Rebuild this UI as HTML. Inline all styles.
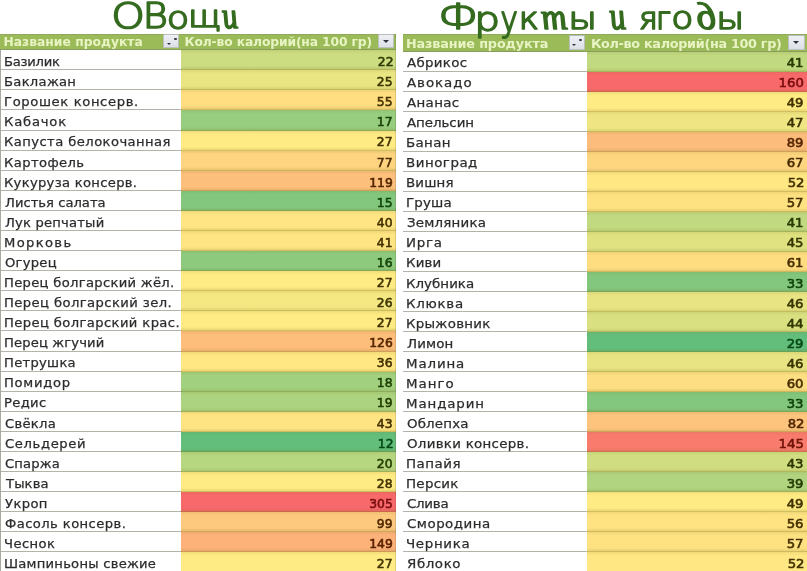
<!DOCTYPE html><html lang="ru"><head><meta charset="utf-8"><title>Table</title><style>
html,body{margin:0;padding:0}
html{overflow:hidden}
body{width:807px;height:571px;overflow:hidden;background:#fff;position:relative}
#v{position:absolute;left:0;top:0;width:807px;height:571px;overflow:hidden;background:#fff}
#w{position:absolute;left:-20px;top:-20px;width:847px;height:611px;background:#fff;overflow:hidden;filter:blur(0.7px);font-family:"DejaVu Sans","Liberation Sans",sans-serif}
#c{position:absolute;left:20px;top:20px;width:807px;height:571px}
#c div,#c span,#c b,#c i{position:absolute;display:block}
.hdr{background:#9bbb59;box-shadow:inset 0 -1px 0 rgba(120,130,100,.5),inset 0 1px 0 rgba(120,130,100,.3)}
.ht{color:#e8f4c4;font-weight:bold;font-size:12.3px;line-height:1;white-space:pre;-webkit-text-stroke:0px #e8f4c4}
.nm{background:#fff;box-shadow:inset 0 -1px 0 #b2b4aa}
.vl{background-image:linear-gradient(rgba(110,100,10,.10),rgba(110,100,10,0) 3.5px,rgba(110,100,10,0) calc(100% - 4px),rgba(110,100,10,.20));box-shadow:inset 0 -1px 0 rgba(100,95,20,.16)}
.tx{font-size:12.5px;line-height:1;white-space:pre;font-weight:normal;color:#2c2c2c;-webkit-text-stroke:0.25px #2c2c2c}
#c .d{font-size:13.0px;-webkit-text-stroke-width:0.6px}
#c .hL{transform:translateY(.4px)}
#c .hR{transform:translateY(-.1px)}
#c .dL{transform:scaleX(0.95);transform-origin:100% 0}
#c .dR{transform:scaleX(1.02);transform-origin:100% 0}
#c .L{transform:translateY(0.2px) scaleX(1.05);transform-origin:0 0}
#c .R{transform:translateY(0.0px) scaleX(1.07);transform-origin:0 0}
.btn{background:linear-gradient(#eef0f4,#dde0e7);border:1px solid rgba(150,160,150,.55);box-sizing:border-box;border-radius:1px}
.btn i{left:50%;top:50%;margin:-1px 0 0 -3.5px;border-left:3.5px solid transparent;border-right:3.5px solid transparent;border-top:3px solid #2e2e3c;width:0;height:0}
.btn.s i{left:2.8px;top:8.2px;margin:0;border-left-width:2.8px;border-right-width:2.8px;border-top-width:2.8px}
.btn.s u{position:absolute;display:block;left:9.6px;top:2.8px;width:2.8px;height:1.8px;background:#3a3a4a;border-radius:1px}
.vln{background:#a8a8a0;width:1px}
#ttl{position:absolute;left:0;top:0;overflow:visible;z-index:5}
#ttl text{font-family:"DejaVu Sans","Liberation Sans",sans-serif;font-weight:200;font-size:32px;fill:#346b1f;stroke:#346b1f;stroke-width:1.8px;stroke-linejoin:round;stroke-linecap:round;vector-effect:non-scaling-stroke;white-space:pre}
#ttl .u{text-transform:uppercase}
#ttl .c{font-family:"Liberation Serif","DejaVu Serif",serif;font-style:italic;font-weight:400;stroke-width:1.53px}</style></head><body><div id="v"><div id="w"><div id="c">
<svg id="ttl" width="807" height="60" viewBox="0 0 807 60" role="img" aria-label="Овощи. Фрукты и ягоды"><g><text transform="translate(111.25,28.12) scale(1.3374,1.1219)">О</text><text class="u" transform="translate(142.66,28.41) scale(1.2002,1.1037)">в</text><text transform="translate(166.66,28.77) scale(1.1486,0.9903)">о</text><text transform="translate(188.00,27.45) scale(1.1084,0.9382)">щ</text><text class="c" transform="translate(224.59,27.99) scale(0.9415,1.1486) skewX(15.5)">и</text></g>
<g><text transform="translate(437.85,28.57) scale(1.4832,1.1219)">Ф</text><text transform="translate(474.29,30.52) scale(1.2692,1.0597)">р</text><text transform="translate(500.44,30.59) scale(0.9103,1.0514)">у</text><text transform="translate(518.75,28.93) scale(1.0638,0.9573)">к</text><text class="c" transform="translate(543.77,28.83) scale(1.0955,1.1462) skewX(15.5)">т</text><text transform="translate(568.31,28.60) scale(1.1767,0.9363)">ы</text><text x="-50" y="-50"> </text><text class="c" transform="translate(611.96,28.56) scale(0.9674,1.2001) skewX(15.5)">и</text><text x="-50" y="-50"> </text><text transform="translate(639.00,28.90) scale(1.0000,0.9363)">я</text><text transform="translate(655.85,28.93) scale(0.9693,0.9573)">г</text><text transform="translate(671.14,29.28) scale(1.1329,0.9799)">о</text><text class="c" transform="translate(699.34,29.25) scale(1.2042,1.1992) skewX(15.5)">д</text><text transform="translate(716.36,28.60) scale(1.1453,0.9363)">ы</text></g>
</svg>
<div class="hdr" style="left:-20px;top:34px;width:416px;height:16px"></div>
<span class="ht hL" style="font-size:12.3px;left:3.40px;top:35.89px;letter-spacing:0.024px">Название продукта</span>
<span class="ht hL" style="font-size:12.3px;left:184.50px;top:35.89px;letter-spacing:-0.134px">Кол-во калорий(на 100 гр)</span>
<div class="btn s" style="left:163.4px;top:34px;width:15.6px;height:14px"><i></i><u></u></div>
<div class="btn" style="left:378.2px;top:34.2px;width:16.3px;height:13.6px"><i></i></div>
<div class="nm" style="left:-20px;top:50px;width:201px;height:20px"></div><div class="vl" style="left:181px;top:50px;width:215px;height:20px;background-color:#cbdc81"></div><b class="tx L" style="left:3.85px;top:56.42px;letter-spacing:-0.242px">Базилик</b> <b class="tx d dL" style="right:413.09px;top:55.40px;color:#2d3a00;-webkit-text-stroke-color:#2d3a00">22</b>
<div class="nm" style="left:-20px;top:70px;width:201px;height:20px"></div><div class="vl" style="left:181px;top:70px;width:215px;height:20px;background-color:#eae583"></div><b class="tx L" style="left:3.85px;top:76.42px;letter-spacing:0.283px">Баклажан</b> <b class="tx d dL" style="right:414.04px;top:75.40px;color:#393500;-webkit-text-stroke-color:#393500">25</b>
<div class="nm" style="left:-20px;top:90px;width:201px;height:20px"></div><div class="vl" style="left:181px;top:90px;width:215px;height:20px;background-color:#fede81"></div><b class="tx L" style="left:3.85px;top:96.42px;letter-spacing:0.605px">Горошек консерв.</b> <b class="tx d dL" style="right:414.04px;top:95.40px;color:#472f00;-webkit-text-stroke-color:#472f00">55</b>
<div class="nm" style="left:-20px;top:110px;width:201px;height:21px"></div><div class="vl" style="left:181px;top:110px;width:215px;height:21px;background-color:#97cd7e"></div><b class="tx L" style="left:3.85px;top:116.42px;letter-spacing:0.773px">Кабачок</b> <b class="tx d dL" style="right:414.04px;top:115.40px;color:#184106;-webkit-text-stroke-color:#184106">17</b>
<div class="nm" style="left:-20px;top:131px;width:201px;height:20px"></div><div class="vl" style="left:181px;top:131px;width:215px;height:20px;background-color:#ffeb84"></div><b class="tx L" style="left:3.85px;top:136.43px;letter-spacing:0.414px">Капуста белокочанная</b> <b class="tx d dL" style="right:414.04px;top:135.40px;color:#413200;-webkit-text-stroke-color:#413200">27</b>
<div class="nm" style="left:-20px;top:151px;width:201px;height:20px"></div><div class="vl" style="left:181px;top:151px;width:215px;height:20px;background-color:#fed480"></div><b class="tx L" style="left:3.85px;top:157.43px;letter-spacing:0.386px">Картофель</b> <b class="tx d dL" style="right:414.04px;top:156.40px;color:#4b2c00;-webkit-text-stroke-color:#4b2c00">77</b>
<div class="nm" style="left:-20px;top:171px;width:201px;height:20px"></div><div class="vl" style="left:181px;top:171px;width:215px;height:20px;background-color:#fdc07c"></div><b class="tx L" style="left:3.85px;top:177.43px;letter-spacing:0.288px">Кукуруза консерв.</b> <b class="tx d dL" style="right:414.04px;top:176.40px;color:#542600;-webkit-text-stroke-color:#542600">119</b>
<div class="nm" style="left:-20px;top:191px;width:201px;height:20px"></div><div class="vl" style="left:181px;top:191px;width:215px;height:20px;background-color:#82c77d"></div><b class="tx L" style="left:4.90px;top:197.43px;letter-spacing:0.012px">Листья салата</b> <b class="tx d dL" style="right:414.04px;top:196.40px;color:#10440c;-webkit-text-stroke-color:#10440c">15</b>
<div class="nm" style="left:-20px;top:211px;width:201px;height:20px"></div><div class="vl" style="left:181px;top:211px;width:215px;height:20px;background-color:#ffe583"></div><b class="tx L" style="left:4.90px;top:217.43px;letter-spacing:0.184px">Лук репчатый</b> <b class="tx d dL" style="right:414.04px;top:216.40px;color:#443100;-webkit-text-stroke-color:#443100">40</b>
<div class="nm" style="left:-20px;top:231px;width:201px;height:20px"></div><div class="vl" style="left:181px;top:231px;width:215px;height:20px;background-color:#ffe483"></div><b class="tx L" style="left:3.85px;top:237.43px;letter-spacing:1.273px">Морковь</b> <b class="tx d dL" style="right:414.04px;top:236.40px;color:#443000;-webkit-text-stroke-color:#443000">41</b>
<div class="nm" style="left:-20px;top:251px;width:201px;height:20px"></div><div class="vl" style="left:181px;top:251px;width:215px;height:20px;background-color:#8dca7d"></div><b class="tx L" style="left:4.90px;top:257.43px;letter-spacing:0.248px">Огурец</b> <b class="tx d dL" style="right:414.04px;top:256.40px;color:#154209;-webkit-text-stroke-color:#154209">16</b>
<div class="nm" style="left:-20px;top:271px;width:201px;height:20px"></div><div class="vl" style="left:181px;top:271px;width:215px;height:20px;background-color:#ffeb84"></div><b class="tx L" style="left:3.85px;top:277.43px;letter-spacing:0.290px">Перец болгарский жёл.</b> <b class="tx d dL" style="right:414.04px;top:276.40px;color:#413200;-webkit-text-stroke-color:#413200">27</b>
<div class="nm" style="left:-20px;top:291px;width:201px;height:20px"></div><div class="vl" style="left:181px;top:291px;width:215px;height:20px;background-color:#f5e883"></div><b class="tx L" style="left:3.85px;top:297.43px;letter-spacing:0.402px">Перец болгарский зел.</b> <b class="tx d dL" style="right:414.04px;top:296.40px;color:#3d3400;-webkit-text-stroke-color:#3d3400">26</b>
<div class="nm" style="left:-20px;top:311px;width:201px;height:20px"></div><div class="vl" style="left:181px;top:311px;width:215px;height:20px;background-color:#ffeb84"></div><b class="tx L" style="left:3.85px;top:317.43px;letter-spacing:0.375px">Перец болгарский крас.</b> <b class="tx d dL" style="right:414.04px;top:316.40px;color:#413200;-webkit-text-stroke-color:#413200">27</b>
<div class="nm" style="left:-20px;top:331px;width:201px;height:21px"></div><div class="vl" style="left:181px;top:331px;width:215px;height:21px;background-color:#fdbd7b"></div><b class="tx L" style="left:3.85px;top:337.43px;letter-spacing:0.127px">Перец жгучий</b> <b class="tx d dL" style="right:414.04px;top:336.40px;color:#552500;-webkit-text-stroke-color:#552500">126</b>
<div class="nm" style="left:-20px;top:352px;width:201px;height:20px"></div><div class="vl" style="left:181px;top:352px;width:215px;height:20px;background-color:#ffe783"></div><b class="tx L" style="left:3.85px;top:357.43px;letter-spacing:0.269px">Петрушка</b> <b class="tx d dL" style="right:414.04px;top:356.40px;color:#433100;-webkit-text-stroke-color:#433100">36</b>
<div class="nm" style="left:-20px;top:372px;width:201px;height:20px"></div><div class="vl" style="left:181px;top:372px;width:215px;height:20px;background-color:#a1d07f"></div><b class="tx L" style="left:3.85px;top:377.43px;letter-spacing:0.701px">Помидор</b> <b class="tx d dL" style="right:414.04px;top:376.40px;color:#1c3f03;-webkit-text-stroke-color:#1c3f03">18</b>
<div class="nm" style="left:-20px;top:392px;width:201px;height:20px"></div><div class="vl" style="left:181px;top:392px;width:215px;height:20px;background-color:#acd37f"></div><b class="tx L" style="left:3.85px;top:397.43px;letter-spacing:0.311px">Редис</b> <b class="tx d dL" style="right:414.04px;top:396.40px;color:#213e00;-webkit-text-stroke-color:#213e00">19</b>
<div class="nm" style="left:-20px;top:412px;width:201px;height:20px"></div><div class="vl" style="left:181px;top:412px;width:215px;height:20px;background-color:#ffe483"></div><b class="tx L" style="left:4.90px;top:418.43px;letter-spacing:0.278px">Свёкла</b> <b class="tx d dL" style="right:414.04px;top:417.40px;color:#443000;-webkit-text-stroke-color:#443000">43</b>
<div class="nm" style="left:-20px;top:432px;width:201px;height:20px"></div><div class="vl" style="left:181px;top:432px;width:215px;height:20px;background-color:#63be7b"></div><b class="tx L" style="left:4.90px;top:438.43px;letter-spacing:0.611px">Сельдерей</b> <b class="tx d dL" style="right:413.09px;top:437.40px;color:#044816;-webkit-text-stroke-color:#044816">12</b>
<div class="nm" style="left:-20px;top:452px;width:201px;height:20px"></div><div class="vl" style="left:181px;top:452px;width:215px;height:20px;background-color:#b6d680"></div><b class="tx L" style="left:4.90px;top:458.43px;letter-spacing:0.154px">Спаржа</b> <b class="tx d dL" style="right:414.04px;top:457.40px;color:#253d00;-webkit-text-stroke-color:#253d00">20</b>
<div class="nm" style="left:-20px;top:472px;width:201px;height:20px"></div><div class="vl" style="left:181px;top:472px;width:215px;height:20px;background-color:#ffeb84"></div><b class="tx L" style="left:5.95px;top:478.43px;letter-spacing:0.109px">Тыква</b> <b class="tx d dL" style="right:414.04px;top:477.40px;color:#413200;-webkit-text-stroke-color:#413200">28</b>
<div class="nm" style="left:-20px;top:492px;width:201px;height:20px"></div><div class="vl" style="left:181px;top:492px;width:215px;height:20px;background-color:#f8696b"></div><b class="tx L" style="left:4.90px;top:498.43px;letter-spacing:0.360px">Укроп</b> <b class="tx d dL" style="right:414.04px;top:497.40px;color:#790e0f;-webkit-text-stroke-color:#790e0f">305</b>
<div class="nm" style="left:-20px;top:512px;width:201px;height:20px"></div><div class="vl" style="left:181px;top:512px;width:215px;height:20px;background-color:#fdc97e"></div><b class="tx L" style="left:4.90px;top:518.42px;letter-spacing:0.399px">Фасоль консерв.</b> <b class="tx d dL" style="right:414.04px;top:517.40px;color:#502900;-webkit-text-stroke-color:#502900">99</b>
<div class="nm" style="left:-20px;top:532px;width:201px;height:20px"></div><div class="vl" style="left:181px;top:532px;width:215px;height:20px;background-color:#fcb279"></div><b class="tx L" style="left:3.85px;top:538.42px;letter-spacing:0.409px">Чеснок</b> <b class="tx d dL" style="right:414.04px;top:537.40px;color:#5a2200;-webkit-text-stroke-color:#5a2200">149</b>
<div class="nm" style="left:-20px;top:552px;width:201px;height:39px"></div><div class="vl" style="left:181px;top:552px;width:215px;height:39px;background-color:#ffeb84"></div><b class="tx L" style="left:3.85px;top:558.42px;letter-spacing:0.233px">Шампиньоны свежие</b> <b class="tx d dL" style="right:414.04px;top:557.40px;color:#413200;-webkit-text-stroke-color:#413200">27</b>
<div class="hdr" style="left:403px;top:34px;width:427px;height:17.5px"></div>
<span class="ht hR" style="font-size:12.8px;left:405.90px;top:37.97px;letter-spacing:-0.133px">Название продукта</span>
<span class="ht hR" style="font-size:12.8px;left:590.90px;top:37.97px;letter-spacing:-0.311px">Кол-во калорий(на 100 гр)</span>
<div class="btn s" style="left:568.5px;top:35.3px;width:16.5px;height:14.4px"><i></i><u></u></div>
<div class="btn" style="left:788.2px;top:35.3px;width:16.8px;height:14.4px"><i></i></div>
<div class="nm" style="left:403px;top:52px;width:184px;height:20px"></div><div class="vl" style="left:587px;top:52px;width:243px;height:20px;background-color:#c1d980"></div><b class="tx R" style="left:406.70px;top:57.42px;letter-spacing:0.291px">Абрикос</b> <b class="tx d dR" style="right:3.52px;top:56.40px;color:#293b00;-webkit-text-stroke-color:#293b00">41</b>
<div class="nm" style="left:403px;top:72px;width:184px;height:20px"></div><div class="vl" style="left:587px;top:72px;width:243px;height:20px;background-color:#f8696b"></div><b class="tx R" style="left:406.70px;top:77.42px;letter-spacing:0.884px">Авокадо</b> <b class="tx d dR" style="right:3.52px;top:76.40px;color:#790e0f;-webkit-text-stroke-color:#790e0f">160</b>
<div class="nm" style="left:403px;top:92px;width:184px;height:20px"></div><div class="vl" style="left:587px;top:92px;width:243px;height:20px;background-color:#ffeb84"></div><b class="tx R" style="left:406.70px;top:97.42px;letter-spacing:0.332px">Ананас</b> <b class="tx d dR" style="right:3.52px;top:96.40px;color:#413200;-webkit-text-stroke-color:#413200">49</b>
<div class="nm" style="left:403px;top:112px;width:184px;height:20px"></div><div class="vl" style="left:587px;top:112px;width:243px;height:20px;background-color:#efe683"></div><b class="tx R" style="left:406.70px;top:117.42px;letter-spacing:-0.035px">Апельсин</b> <b class="tx d dR" style="right:3.52px;top:116.40px;color:#3b3400;-webkit-text-stroke-color:#3b3400">47</b>
<div class="nm" style="left:403px;top:132px;width:184px;height:20px"></div><div class="vl" style="left:587px;top:132px;width:243px;height:20px;background-color:#fcbc7b"></div><b class="tx R" style="left:405.63px;top:137.43px;letter-spacing:0.350px">Банан</b> <b class="tx d dR" style="right:3.52px;top:136.40px;color:#552500;-webkit-text-stroke-color:#552500">89</b>
<div class="nm" style="left:403px;top:152px;width:184px;height:20px"></div><div class="vl" style="left:587px;top:152px;width:243px;height:20px;background-color:#fed680"></div><b class="tx R" style="left:405.63px;top:157.43px;letter-spacing:0.481px">Виноград</b> <b class="tx d dR" style="right:3.52px;top:156.40px;color:#4a2c00;-webkit-text-stroke-color:#4a2c00">67</b>
<div class="nm" style="left:403px;top:172px;width:184px;height:20px"></div><div class="vl" style="left:587px;top:172px;width:243px;height:20px;background-color:#ffe783"></div><b class="tx R" style="left:405.63px;top:177.43px;letter-spacing:0.123px">Вишня</b> <b class="tx d dR" style="right:2.50px;top:176.40px;color:#433100;-webkit-text-stroke-color:#433100">52</b>
<div class="nm" style="left:403px;top:192px;width:184px;height:20px"></div><div class="vl" style="left:587px;top:192px;width:243px;height:20px;background-color:#fee282"></div><b class="tx R" style="left:405.63px;top:197.43px;letter-spacing:0.159px">Груша</b> <b class="tx d dR" style="right:3.52px;top:196.40px;color:#453000;-webkit-text-stroke-color:#453000">57</b>
<div class="nm" style="left:403px;top:212px;width:184px;height:20px"></div><div class="vl" style="left:587px;top:212px;width:243px;height:20px;background-color:#c1d980"></div><b class="tx R" style="left:406.70px;top:217.43px;letter-spacing:0.211px">Земляника</b> <b class="tx d dR" style="right:3.52px;top:216.40px;color:#293b00;-webkit-text-stroke-color:#293b00">41</b>
<div class="nm" style="left:403px;top:232px;width:184px;height:20px"></div><div class="vl" style="left:587px;top:232px;width:243px;height:20px;background-color:#e0e282"></div><b class="tx R" style="left:405.63px;top:237.43px;letter-spacing:0.703px">Ирга</b> <b class="tx d dR" style="right:3.52px;top:236.40px;color:#353700;-webkit-text-stroke-color:#353700">45</b>
<div class="nm" style="left:403px;top:252px;width:184px;height:20px"></div><div class="vl" style="left:587px;top:252px;width:243px;height:20px;background-color:#fedd81"></div><b class="tx R" style="left:405.63px;top:257.43px;letter-spacing:0.159px">Киви</b> <b class="tx d dR" style="right:3.52px;top:256.40px;color:#472e00;-webkit-text-stroke-color:#472e00">61</b>
<div class="nm" style="left:403px;top:272px;width:184px;height:20px"></div><div class="vl" style="left:587px;top:272px;width:243px;height:20px;background-color:#82c77d"></div><b class="tx R" style="left:405.63px;top:278.43px;letter-spacing:0.034px">Клубника</b> <b class="tx d dR" style="right:3.52px;top:277.40px;color:#10440c;-webkit-text-stroke-color:#10440c">33</b>
<div class="nm" style="left:403px;top:292px;width:184px;height:20px"></div><div class="vl" style="left:587px;top:292px;width:243px;height:20px;background-color:#e8e483"></div><b class="tx R" style="left:405.63px;top:298.43px;letter-spacing:0.676px">Клюква</b> <b class="tx d dR" style="right:3.52px;top:297.40px;color:#383500;-webkit-text-stroke-color:#383500">46</b>
<div class="nm" style="left:403px;top:312px;width:184px;height:20px"></div><div class="vl" style="left:587px;top:312px;width:243px;height:20px;background-color:#d8e082"></div><b class="tx R" style="left:405.63px;top:318.43px;letter-spacing:0.258px">Крыжовник</b> <b class="tx d dR" style="right:3.52px;top:317.40px;color:#323800;-webkit-text-stroke-color:#323800">44</b>
<div class="nm" style="left:403px;top:332px;width:184px;height:20px"></div><div class="vl" style="left:587px;top:332px;width:243px;height:20px;background-color:#63be7b"></div><b class="tx R" style="left:406.70px;top:338.43px;letter-spacing:0.121px">Лимон</b> <b class="tx d dR" style="right:3.52px;top:337.40px;color:#044816;-webkit-text-stroke-color:#044816">29</b>
<div class="nm" style="left:403px;top:352px;width:184px;height:20px"></div><div class="vl" style="left:587px;top:352px;width:243px;height:20px;background-color:#e8e483"></div><b class="tx R" style="left:405.63px;top:358.43px;letter-spacing:0.815px">Малина</b> <b class="tx d dR" style="right:3.52px;top:357.40px;color:#383500;-webkit-text-stroke-color:#383500">46</b>
<div class="nm" style="left:403px;top:372px;width:184px;height:20px"></div><div class="vl" style="left:587px;top:372px;width:243px;height:20px;background-color:#fede82"></div><b class="tx R" style="left:405.63px;top:378.43px;letter-spacing:0.905px">Манго</b> <b class="tx d dR" style="right:3.52px;top:377.40px;color:#472f00;-webkit-text-stroke-color:#472f00">60</b>
<div class="nm" style="left:403px;top:392px;width:184px;height:20px"></div><div class="vl" style="left:587px;top:392px;width:243px;height:20px;background-color:#82c77d"></div><b class="tx R" style="left:405.63px;top:398.43px;letter-spacing:0.828px">Мандарин</b> <b class="tx d dR" style="right:3.52px;top:397.40px;color:#10440c;-webkit-text-stroke-color:#10440c">33</b>
<div class="nm" style="left:403px;top:412px;width:184px;height:20px"></div><div class="vl" style="left:587px;top:412px;width:243px;height:20px;background-color:#fdc47d"></div><b class="tx R" style="left:406.70px;top:418.43px;letter-spacing:0.155px">Облепха</b> <b class="tx d dR" style="right:2.50px;top:417.40px;color:#522700;-webkit-text-stroke-color:#522700">82</b>
<div class="nm" style="left:403px;top:432px;width:184px;height:20px"></div><div class="vl" style="left:587px;top:432px;width:243px;height:20px;background-color:#f97b6e"></div><b class="tx R" style="left:406.70px;top:438.43px;letter-spacing:0.271px">Оливки консерв.</b> <b class="tx d dR" style="right:3.52px;top:437.40px;color:#711309;-webkit-text-stroke-color:#711309">145</b>
<div class="nm" style="left:403px;top:452px;width:184px;height:20px"></div><div class="vl" style="left:587px;top:452px;width:243px;height:20px;background-color:#d0de81"></div><b class="tx R" style="left:405.63px;top:458.43px;letter-spacing:0.466px">Папайя</b> <b class="tx d dR" style="right:3.52px;top:457.40px;color:#2f3900;-webkit-text-stroke-color:#2f3900">43</b>
<div class="nm" style="left:403px;top:472px;width:184px;height:20px"></div><div class="vl" style="left:587px;top:472px;width:243px;height:20px;background-color:#b1d480"></div><b class="tx R" style="left:405.63px;top:478.43px;letter-spacing:0.278px">Персик</b> <b class="tx d dR" style="right:3.52px;top:477.40px;color:#233d00;-webkit-text-stroke-color:#233d00">39</b>
<div class="nm" style="left:403px;top:492px;width:184px;height:20px"></div><div class="vl" style="left:587px;top:492px;width:243px;height:20px;background-color:#ffeb84"></div><b class="tx R" style="left:406.70px;top:498.43px;letter-spacing:-0.246px">Слива</b> <b class="tx d dR" style="right:3.52px;top:497.40px;color:#413200;-webkit-text-stroke-color:#413200">49</b>
<div class="nm" style="left:403px;top:512px;width:184px;height:20px"></div><div class="vl" style="left:587px;top:512px;width:243px;height:20px;background-color:#ffe382"></div><b class="tx R" style="left:406.70px;top:518.42px;letter-spacing:0.472px">Смородина</b> <b class="tx d dR" style="right:3.52px;top:517.40px;color:#453000;-webkit-text-stroke-color:#453000">56</b>
<div class="nm" style="left:403px;top:532px;width:184px;height:20px"></div><div class="vl" style="left:587px;top:532px;width:243px;height:20px;background-color:#fee282"></div><b class="tx R" style="left:405.63px;top:538.42px;letter-spacing:0.635px">Черника</b> <b class="tx d dR" style="right:3.52px;top:537.40px;color:#453000;-webkit-text-stroke-color:#453000">57</b>
<div class="nm" style="left:403px;top:552px;width:184px;height:39px"></div><div class="vl" style="left:587px;top:552px;width:243px;height:39px;background-color:#ffe783"></div><b class="tx R" style="left:406.70px;top:558.42px;letter-spacing:0.553px">Яблоко</b> <b class="tx d dR" style="right:2.50px;top:557.40px;color:#433100;-webkit-text-stroke-color:#433100">52</b>
<div class="vln" style="left:0;top:50px;height:541px"></div>
<div class="vln" style="left:395px;top:34px;height:557px;background:rgba(80,80,60,.18)"></div>
</div></div></div></body></html>
